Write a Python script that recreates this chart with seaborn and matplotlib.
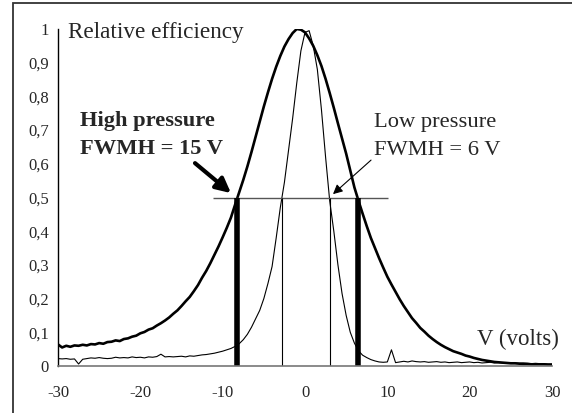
import numpy as np
import pandas as pd
import matplotlib
matplotlib.use("Agg")
import matplotlib.pyplot as plt
from matplotlib.patches import Rectangle
import seaborn as sns

# ---- data ----
volts = np.arange(-30, 30.01, 0.5)

high_pressure = [
    0.064, 0.055, 0.060, 0.057, 0.061, 0.060, 0.063, 0.061, 0.065, 0.064,
    0.068, 0.066, 0.071, 0.072, 0.076, 0.074, 0.080, 0.082, 0.087, 0.090,
    0.097, 0.101, 0.108, 0.112, 0.120, 0.127, 0.135, 0.144, 0.155, 0.165,
    0.178, 0.192, 0.205, 0.222, 0.240, 0.262, 0.282, 0.305, 0.330, 0.355,
    0.382, 0.410, 0.440, 0.478, 0.515, 0.552, 0.592, 0.635, 0.680, 0.725,
    0.770, 0.812, 0.852, 0.888, 0.920, 0.948, 0.970, 0.988, 1.000, 0.998,
    0.990, 0.972, 0.950, 0.922, 0.890, 0.852, 0.810, 0.766, 0.720, 0.675,
    0.630, 0.580, 0.530, 0.490, 0.452, 0.415, 0.380, 0.350, 0.320, 0.292,
    0.265, 0.242, 0.220, 0.198, 0.178, 0.160, 0.142, 0.128, 0.113, 0.102,
    0.090, 0.080, 0.071, 0.063, 0.056, 0.050, 0.044, 0.040, 0.036, 0.031,
    0.028, 0.024, 0.021, 0.018, 0.016, 0.014, 0.012, 0.011, 0.010, 0.009,
    0.008, 0.008, 0.007, 0.006, 0.006, 0.005, 0.005, 0.005, 0.005, 0.004,
    0.004,
]

low_pressure = [
    0.022, 0.021, 0.022, 0.020, 0.021, 0.006, 0.020, 0.022, 0.024, 0.023,
    0.025, 0.023, 0.022, 0.023, 0.026, 0.024, 0.025, 0.024, 0.027, 0.025,
    0.026, 0.024, 0.027, 0.026, 0.028, 0.035, 0.027, 0.028, 0.027, 0.028,
    0.029, 0.027, 0.030, 0.029, 0.031, 0.033, 0.034, 0.036, 0.038, 0.041,
    0.044, 0.048, 0.052, 0.058, 0.066, 0.078, 0.094, 0.115, 0.140, 0.165,
    0.200, 0.245, 0.295, 0.380, 0.470, 0.545, 0.640, 0.735, 0.840, 0.935,
    0.990, 0.995, 0.950, 0.880, 0.760, 0.620, 0.490, 0.400, 0.300, 0.215,
    0.150, 0.100, 0.068, 0.045, 0.032, 0.025, 0.019, 0.015, 0.012, 0.011,
    0.012, 0.048, 0.010, 0.012, 0.014, 0.012, 0.015, 0.013, 0.012, 0.013,
    0.011, 0.012, 0.013, 0.011, 0.012, 0.010, 0.011, 0.012, 0.010, 0.011,
    0.012, 0.010, 0.011, 0.009, 0.010, 0.011, 0.009, 0.010, 0.009, 0.010,
    0.008, 0.009, 0.008, 0.009, 0.008, 0.007, 0.008, 0.007, 0.007, 0.006,
    0.006,
]

fwhm_high = [-8.26, 6.44]
fwhm_low = [-2.79, 3.04]
half_max = 0.5
half_line_span = [-11.2, 10.1]

x_ticks = [-30, -20, -10, 0, 10, 20, 30]
y_ticks = [0, 0.1, 0.2, 0.3, 0.4, 0.5, 0.6, 0.7, 0.8, 0.9, 1.0]
y_tick_labels = ["0", "0,1", "0,2", "0,3", "0,4", "0,5", "0,6", "0,7", "0,8", "0,9", "1"]

# ---- style ----
sns.set_style("white")
plt.rcParams["font.family"] = ["Liberation Serif", "DejaVu Serif"]

W, H = 572, 413
fig = plt.figure(figsize=(W / 100, H / 100), dpi=100)
ax = fig.add_axes([58 / W, (H - 366) / H, (552 - 58) / W, (366 - 29) / H])

# figure border
fig.patches.append(Rectangle((13 / W, -0.05), 1.2, (H - 3) / H + 0.05,
                             transform=fig.transFigure, fill=False,
                             edgecolor="#333333", lw=1.3, zorder=0))

df = pd.DataFrame({"V": volts, "high": high_pressure, "low": low_pressure})
sns.lineplot(data=df, x="V", y="low", ax=ax, color="black", lw=0.8)
sns.lineplot(data=df, x="V", y="high", ax=ax, color="black", lw=1.9)

ax.hlines(half_max, half_line_span[0], half_line_span[1], color="#555555", lw=1.0)
ax.vlines(fwhm_high, 0, half_max, color="black", lw=4.0)
ax.vlines(fwhm_low, 0, half_max, color="black", lw=0.8)

ax.set_xlim(-30, 30)
ax.set_ylim(0, 1)
ax.set_xticks(x_ticks)
ax.set_xticklabels([str(t) for t in x_ticks])
ax.set_yticks(y_ticks)
ax.set_yticklabels(y_tick_labels)
ax.set_xlabel("")
ax.set_ylabel("")

for s in ["top", "right"]:
    ax.spines[s].set_visible(False)
ax.spines["left"].set_color("black")
ax.spines["left"].set_linewidth(1.0)
ax.spines["bottom"].set_color("#777777")
ax.spines["bottom"].set_linewidth(1.2)
ax.tick_params(axis="y", direction="inout", length=7, width=1.0, color="black",
               labelsize=12, pad=3)
ax.tick_params(axis="x", direction="out", length=4, width=1.0, color="#777777",
               labelsize=12, pad=10)

ax.text(-28.8, 0.973, "Relative efficiency", fontsize=16.7, va="baseline", ha="left")
ax.text(-27.3, 0.712, "High pressure", fontsize=16.2, fontweight="bold", va="baseline")
ax.text(-27.3, 0.629, "FWMH = 15 V", fontsize=16.2, fontweight="bold", va="baseline")
ax.text(8.4, 0.709, "Low pressure", fontsize=16.2, va="baseline")
ax.text(8.4, 0.626, "FWMH = 6 V", fontsize=16.2, va="baseline")
ax.text(20.9, 0.062, "V (volts)", fontsize=16.5, va="baseline")

ax.annotate("", xy=(-8.99, 0.513), xytext=(-13.36, 0.602),
            arrowprops=dict(arrowstyle="-|>", color="black", lw=3,
                            mutation_scale=22, shrinkA=0, shrinkB=0))
ax.annotate("", xy=(3.40, 0.510), xytext=(8.02, 0.611),
            arrowprops=dict(arrowstyle="-|>", color="black", lw=0.8,
                            mutation_scale=14, shrinkA=0, shrinkB=0))

fig.savefig("out.png", dpi=100)
